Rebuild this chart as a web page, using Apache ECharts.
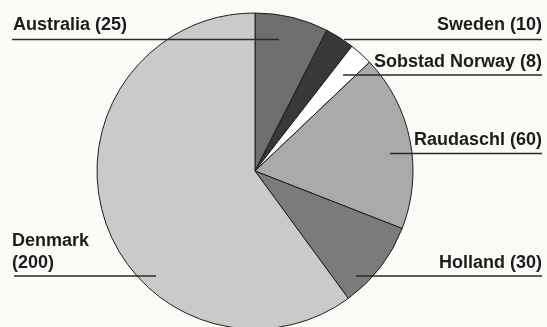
<!DOCTYPE html>
<html>
<head>
<meta charset="utf-8">
<script src="https://cdn.jsdelivr.net/npm/echarts@6/dist/echarts.min.js"></script>
<style>
html,body{margin:0;padding:0;background:#fbfbf8;}
#c{width:547px;height:327px;}
</style>
</head>
<body>
<div id="c"></div>
<script>
const categories = ['Australia', 'Sweden', 'Sobstad Norway', 'Raudaschl', 'Holland', 'Denmark'];
const values = [25, 10, 8, 60, 30, 200];
const colors = ['#6e6e6e', '#383838', '#ffffff', '#a9aaa9', '#7b7b7b', '#c9cbca'];

// label placement (text anchor and leader line) per slice
const labelPlacement = [
  {x: 13,  y: 25,    align: 'left',  line: [[279, 39.5], [12, 39.5]]},
  {x: 542, y: 25,    align: 'right', line: [[344, 39.5], [542, 39.5]]},
  {x: 542, y: 62,    align: 'right', line: [[343, 75], [542, 75]]},
  {x: 542, y: 140,   align: 'right', line: [[390, 153.5], [542, 153.5]]},
  {x: 542, y: 263,   align: 'right', line: [[356, 276], [542, 276]]},
  {x: 12,  y: 252,   align: 'left',  line: [[156, 276], [14, 276]]}
];

const pieData = categories.map((n, i) => ({name: n, value: values[i]}));
const common = {
  type: 'pie',
  center: [255, 171],
  radius: 158,
  startAngle: 90,
  clockwise: true,
  avoidLabelOverlap: false,
  emphasis: {disabled: true},
  silent: true
};

const chart = echarts.init(document.getElementById('c'), null, {renderer: 'canvas'});
chart.setOption({
  backgroundColor: '#fbfbf8',
  animation: false,
  series: [
    Object.assign({}, common, {
      z: 2,
      data: pieData.map((d, i) => ({name: d.name, value: d.value, itemStyle: {color: colors[i]}})),
      itemStyle: {borderColor: '#1e1e1e', borderWidth: 1},
      label: {show: false},
      labelLine: {show: false}
    }),
    Object.assign({}, common, {
      z: 5,
      data: pieData,
      itemStyle: {color: 'rgba(0,0,0,0)', borderWidth: 0},
      label: {
        show: true,
        position: 'outside',
        fontFamily: 'Liberation Sans',
        fontWeight: 'bold',
        fontSize: 18,
        lineHeight: 22.6,
        color: '#1c1c1c',
        formatter: p => p.name === 'Denmark' ? p.name + '\n(' + p.value + ')' : p.name + ' (' + p.value + ')'
      },
      labelLine: {
        show: true,
        length: 10,
        length2: 10,
        lineStyle: {color: '#2a2a2a', width: 1.3}
      },
      labelLayout: function (params) {
        const L = labelPlacement[params.dataIndex];
        return {
          x: L.x,
          y: L.y,
          align: L.align,
          verticalAlign: 'middle',
          labelLinePoints: [L.line[0], L.line[0], L.line[1]]
        };
      }
    })
  ]
});
</script>
</body>
</html>
